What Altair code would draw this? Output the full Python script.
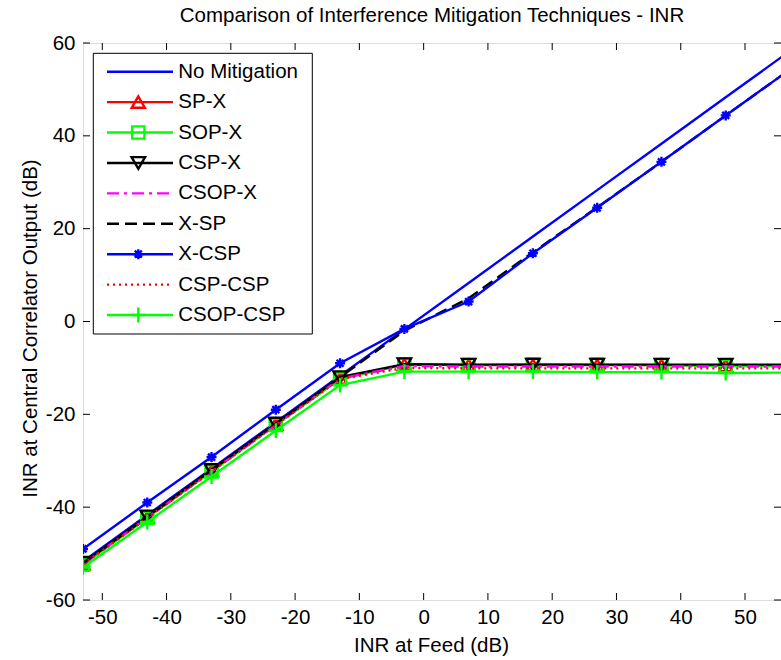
import altair as alt
import pandas as pd

# INR at the feed (dB) where each curve was evaluated
inr_feed = [-53, -43, -33, -23, -13, -3, 7, 17, 27, 37, 47, 57]

# INR at the central correlator output (dB) for each technique
no_mitigation = [-51.7, -41.7, -31.7, -21.7, -11.7, -1.7, 8.3, 18.3, 28.3, 38.3, 48.3, 58.3]
sp_x = [-52.2, -42.2, -32.1, -22.1, -12.2, -9.3, -9.4, -9.4, -9.4, -9.4, -9.5, -9.5]
sop_x = [-52.4, -42.3, -32.3, -22.3, -12.4, -9.3, -9.4, -9.2, -9.3, -9.4, -9.6, -9.6]
csp_x = [-52.0, -42.0, -32.0, -22.0, -12.0, -9.2, -9.3, -9.3, -9.3, -9.3, -9.3, -9.3]
csop_x = [-52.3, -42.3, -32.3, -22.3, -12.3, -9.6, -9.7, -9.7, -9.7, -9.7, -9.7, -9.7]
x_sp = [-52.1, -42.1, -32.0, -22.0, -12.0, -2.0, 5.0, 14.9, 24.6, 34.4, 44.4, 54.3]
x_csp = [-49.0, -39.0, -29.2, -19.0, -9.0, -1.6, 4.3, 14.7, 24.5, 34.4, 44.4, 54.3]
csp_csp = [-52.3, -42.3, -32.3, -22.3, -12.4, -10.0, -10.1, -10.1, -10.1, -10.1, -10.1, -10.1]
csop_csp = [-53.0, -43.2, -33.4, -23.5, -13.7, -10.8, -10.8, -10.8, -10.9, -10.9, -11.1, -11.0]

series_names = ["No Mitigation", "SP-X", "SOP-X", "CSP-X", "CSOP-X",
                "X-SP", "X-CSP", "CSP-CSP", "CSOP-CSP"]
series_values = [no_mitigation, sp_x, sop_x, csp_x, csop_x,
                 x_sp, x_csp, csp_csp, csop_csp]

x_ticks = [-50, -40, -30, -20, -10, 0, 10, 20, 30, 40, 50]
y_ticks = [-60, -40, -20, 0, 20, 40, 60]

# line colour, dash pattern and marker for every technique
PLUS = "M-1,0L1,0M0,-1L0,1"
STAR = "M-1,0L1,0M0,-1L0,1M-0.7,-0.7L0.7,0.7M-0.7,0.7L0.7,-0.7"
styles = [
    dict(color="#0000ff"),
    dict(color="#ff0000", shape="triangle-up", size=170),
    dict(color="#00ff00", shape="square", size=150),
    dict(color="#000000", shape="triangle-down", size=180),
    dict(color="#ff00ff", dash=[12, 5, 3, 5]),
    dict(color="#000000", dash=[12, 6]),
    dict(color="#0000ff", shape=STAR, size=100),
    dict(color="#ff0000", dash=[2, 4]),
    dict(color="#00ff00", shape=PLUS, size=220),
]

W, H = 698, 557
FONT = "Liberation Sans"
FS = 20.5
LW = 2.4
LABEL = "'' + datum.value"

xscale = alt.Scale(domain=[-53, 55.6], nice=False, zero=False)
yscale = alt.Scale(domain=[-60, 60], nice=False, zero=False)

xaxis = alt.Axis(values=x_ticks, title="INR at Feed (dB)", ticks=False, grid=False,
                 domain=False, labelPadding=7, labelFont=FONT, labelFontSize=FS,
                 labelColor="black", labelFlush=False, labelOverlap=False,
                 labelBound=False, labelExpr=LABEL, titleFont=FONT, titleFontSize=FS,
                 titleFontWeight="normal", titleColor="black", titleX=348,
                 titleY=45, titleAlign="center", titleBaseline="middle")
yaxis = alt.Axis(values=y_ticks, title="INR at Central Correlator Output (dB)",
                 ticks=False, grid=False, domain=False, labelPadding=8,
                 labelFont=FONT, labelFontSize=FS, labelColor="black",
                 labelFlush=False, labelOverlap=False, labelBound=False,
                 labelExpr=LABEL,
                 titleFont=FONT, titleFontSize=FS, titleFontWeight="normal",
                 titleColor="black", titleAngle=-90, titleX=-53, titleY=285,
                 titleAlign="center", titleBaseline="middle")


def X():
    return alt.X("x:Q", scale=xscale, axis=xaxis)


def Y():
    return alt.Y("y:Q", scale=yscale, axis=yaxis)


main_layers = []

# inward tick marks on all four sides of the box
xt = alt.Chart(pd.DataFrame({"x": x_ticks}))
yt = alt.Chart(pd.DataFrame({"y": y_ticks}))
main_layers.append(xt.mark_rule(color="black", strokeWidth=1).encode(
    x=X(), y=alt.value(H), y2=alt.value(H - 7)))
main_layers.append(xt.mark_rule(color="black", strokeWidth=1).encode(
    x=X(), y=alt.value(0), y2=alt.value(7)))
main_layers.append(yt.mark_rule(color="black", strokeWidth=1).encode(
    y=Y(), x=alt.value(0), x2=alt.value(7)))
main_layers.append(yt.mark_rule(color="black", strokeWidth=1).encode(
    y=Y(), x=alt.value(W - 7), x2=alt.value(W)))

# curves, drawn in plotting order with their markers
for name, vals, st in zip(series_names, series_values, styles):
    df = pd.DataFrame({"x": inr_feed, "y": vals})
    base = alt.Chart(df).encode(x=X(), y=Y())
    line_kw = dict(color=st["color"], strokeWidth=LW, clip=True)
    if "dash" in st:
        line_kw["strokeDash"] = st["dash"]
    main_layers.append(base.mark_line(**line_kw))
    if "shape" in st:
        main_layers.append(base.mark_point(shape=st["shape"], size=st["size"],
                                           filled=False, color=st["color"],
                                           strokeWidth=LW, opacity=1, clip=True))

main = alt.layer(*main_layers)

# legend box in the upper left corner
leg_scale = alt.Scale(domain=[0, 8], range=[28.7, 272])
leg_layers = [
    alt.Chart(pd.DataFrame({"row": [0]})).mark_rect(
        fill="white", stroke="black", strokeWidth=1).encode(
        x=alt.value(10.3), x2=alt.value(229.3), y=alt.value(10.3), y2=alt.value(291))
]
for i, (name, st) in enumerate(zip(series_names, styles)):
    rc = alt.Chart(pd.DataFrame({"row": [i], "label": [name]}))
    ry = alt.Y("row:Q", scale=leg_scale, axis=None)
    rule_kw = dict(color=st["color"], strokeWidth=LW)
    if "dash" in st:
        rule_kw["strokeDash"] = st["dash"]
    leg_layers.append(rc.mark_rule(**rule_kw).encode(
        x=alt.value(24), x2=alt.value(90), y=ry))
    if "shape" in st:
        leg_layers.append(rc.mark_point(shape=st["shape"], size=st["size"],
                                        filled=False, color=st["color"],
                                        strokeWidth=LW, opacity=1).encode(
            x=alt.value(55.3), y=ry))
    leg_layers.append(rc.mark_text(align="left", baseline="middle", font=FONT,
                                   fontSize=FS, color="black").encode(
        x=alt.value(95.3), y=ry, text="label:N"))

legend = alt.layer(*leg_layers)

chart = alt.layer(main, legend).resolve_scale(y="independent").properties(
    width=W,
    height=H,
    padding={"left": 83, "top": 43, "right": 0, "bottom": 60},
    autosize=alt.AutoSizeParams(type="none"),
    title=alt.TitleParams("Comparison of Interference Mitigation Techniques - INR",
                          font=FONT, fontSize=FS, fontWeight="normal",
                          color="black", anchor="middle", frame="group", offset=7),
).configure_view(stroke="black", strokeWidth=1).configure(background="white")

chart.save("out.html", embed_options={"renderer": "svg", "actions": False})
